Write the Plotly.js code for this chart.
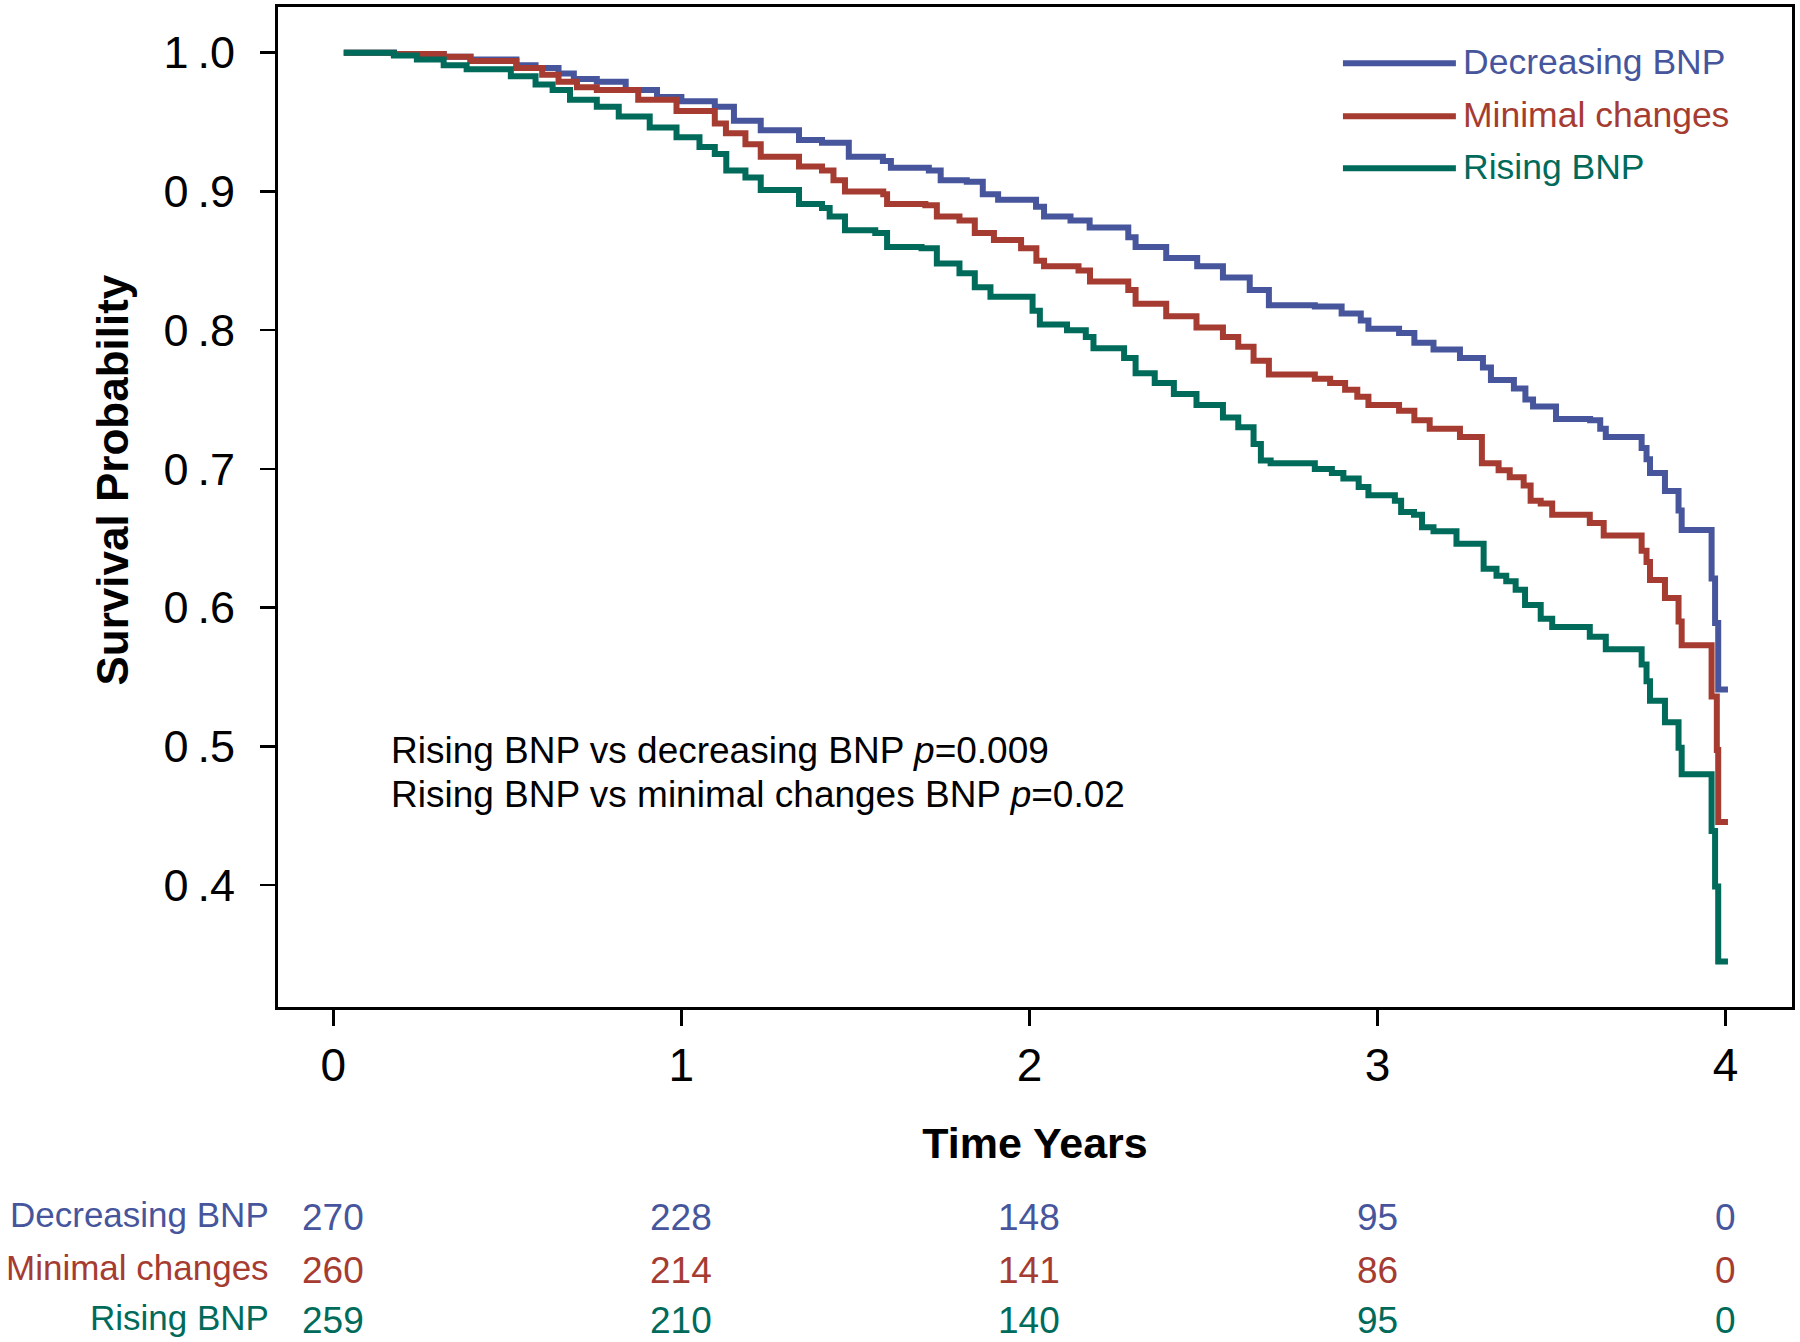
<!DOCTYPE html>
<html>
<head>
<meta charset="utf-8">
<script src="https://cdn.plot.ly/plotly-3.0.1.min.js"></script>
<style>html,body{margin:0;padding:0;background:#fff}</style>
</head>
<body>
<div id="chart" style="width:1800px;height:1342px"></div>
<script>
// ---- Data ----
const groupNames = ["Decreasing BNP", "Minimal changes", "Rising BNP"];
const groupColors = ["#47569c", "#a63c31", "#006b5b"];

const decTime = [0.03,0.174,0.317,0.394,0.526,0.581,0.647,0.691,0.757,0.84,0.93,1.0,1.096,1.151,1.228,1.338,1.404,1.481,1.579,1.602,1.711,1.745,1.82,1.866,1.91,2.019,2.042,2.118,2.173,2.284,2.305,2.393,2.482,2.556,2.633,2.688,2.82,2.897,2.952,2.974,3.062,3.106,3.161,3.237,3.303,3.326,3.392,3.425,3.447,3.513,3.611,3.64,3.656,3.759,3.773,3.783,3.826,3.865,3.874,3.96,3.97,3.979,4.007];
const decSurv = [1.0,0.999,0.997,0.995,0.991,0.989,0.985,0.981,0.979,0.973,0.968,0.965,0.961,0.951,0.944,0.937,0.935,0.925,0.922,0.917,0.915,0.908,0.907,0.898,0.894,0.889,0.882,0.879,0.874,0.867,0.860,0.852,0.846,0.838,0.829,0.818,0.817,0.812,0.807,0.801,0.798,0.791,0.786,0.780,0.773,0.764,0.758,0.750,0.745,0.736,0.735,0.729,0.723,0.715,0.707,0.697,0.684,0.670,0.656,0.621,0.589,0.541,0.541];

const minTime = [0.03,0.174,0.317,0.394,0.526,0.6,0.647,0.7,0.757,0.876,0.986,1.096,1.128,1.184,1.228,1.338,1.404,1.437,1.47,1.58,1.591,1.701,1.734,1.799,1.843,1.898,1.976,2.02,2.042,2.141,2.174,2.284,2.305,2.393,2.48,2.556,2.6,2.644,2.688,2.82,2.864,2.907,2.942,2.974,3.062,3.106,3.15,3.237,3.30,3.348,3.38,3.42,3.44,3.469,3.502,3.61,3.65,3.759,3.773,3.783,3.826,3.865,3.874,3.96,3.975,3.979,4.007];
const minSurv = [1.0,0.999,0.997,0.994,0.989,0.984,0.979,0.975,0.973,0.966,0.958,0.949,0.942,0.934,0.925,0.918,0.915,0.908,0.900,0.898,0.891,0.890,0.882,0.879,0.870,0.865,0.859,0.850,0.846,0.843,0.835,0.829,0.819,0.810,0.802,0.795,0.788,0.778,0.768,0.765,0.762,0.757,0.752,0.746,0.742,0.735,0.729,0.723,0.704,0.699,0.694,0.688,0.677,0.675,0.667,0.661,0.652,0.641,0.633,0.620,0.607,0.590,0.573,0.536,0.4975,0.4455,0.4455];

const risTime = [0.03,0.174,0.24,0.317,0.383,0.51,0.581,0.63,0.68,0.757,0.82,0.909,0.986,1.052,1.096,1.129,1.184,1.228,1.338,1.404,1.426,1.47,1.557,1.591,1.69,1.734,1.799,1.843,1.888,2.009,2.03,2.108,2.162,2.184,2.272,2.305,2.36,2.415,2.48,2.556,2.6,2.644,2.665,2.693,2.82,2.869,2.902,2.946,2.974,3.05,3.068,3.105,3.128,3.161,3.227,3.305,3.342,3.37,3.397,3.424,3.469,3.502,3.61,3.656,3.759,3.773,3.783,3.826,3.865,3.874,3.96,3.97,3.979,4.007];
const risSurv = [1.0,0.998,0.995,0.991,0.988,0.983,0.977,0.973,0.966,0.961,0.954,0.946,0.939,0.932,0.927,0.915,0.910,0.901,0.891,0.888,0.882,0.872,0.870,0.860,0.859,0.848,0.841,0.831,0.824,0.814,0.804,0.800,0.795,0.787,0.780,0.769,0.762,0.754,0.746,0.737,0.730,0.718,0.706,0.704,0.700,0.697,0.693,0.687,0.681,0.677,0.669,0.667,0.658,0.655,0.646,0.628,0.623,0.619,0.613,0.602,0.592,0.586,0.579,0.570,0.559,0.547,0.533,0.5175,0.499,0.480,0.439,0.399,0.345,0.345];

const xTickVals = [0, 1, 2, 3, 4];
const xTickText = ["0", "1", "2", "3", "4"];
const yTickVals = [0.4, 0.5, 0.6, 0.7, 0.8, 0.9, 1.0];
const yTickText = ["0\u2009.4", "0\u2009.5", "0\u2009.6", "0\u2009.7", "0\u2009.8", "0\u2009.9", "1\u2009.0"];

const riskTimes = [0, 1, 2, 3, 4];
const riskDecreasing = [270, 228, 148, 95, 0];
const riskMinimal = [260, 214, 141, 86, 0];
const riskRising = [259, 210, 140, 95, 0];

const pText1 = "Rising BNP vs decreasing BNP <i>p</i>=0.009";
const pText2 = "Rising BNP vs minimal changes BNP <i>p</i>=0.02";

// ---- Build traces ----
const FONT = "Liberation Sans, Arial, Helvetica, sans-serif";
const series = [[decTime, decSurv], [minTime, minSurv], [risTime, risSurv]];
const traces = series.map((s, i) => ({
  x: s[0], y: s[1], type: "scatter", mode: "lines",
  line: {shape: "hv", color: groupColors[i], width: 6},
  name: groupNames[i], showlegend: false, hoverinfo: "skip"
}));

// ---- Annotations & shapes ----
const annotations = [];
const shapes = [];

// Y axis title
annotations.push({
  xref: "paper", yref: "paper", x: -0.109, y: 0.5275,
  text: "<b>Survival Probability</b>", textangle: -90, showarrow: false,
  xanchor: "center", yanchor: "middle",
  font: {family: FONT, size: 44, color: "#000"}
});

// p-value texts
annotations.push({xref: "paper", yref: "paper", x: 0.073, y: 0.257, text: pText1, showarrow: false,
  xanchor: "left", yanchor: "middle", font: {family: FONT, size: 37, color: "#000"}});
annotations.push({xref: "paper", yref: "paper", x: 0.073, y: 0.213, text: pText2, showarrow: false,
  xanchor: "left", yanchor: "middle", font: {family: FONT, size: 37, color: "#000"}});

// Legend (custom, long line samples)
const legendY = [0.9437, 0.8907, 0.8387];
groupNames.forEach((nm, i) => {
  shapes.push({type: "line", xref: "paper", yref: "paper", x0: 0.7034, x1: 0.778,
    y0: legendY[i], y1: legendY[i], line: {color: groupColors[i], width: 6}});
  annotations.push({xref: "paper", yref: "paper", x: 0.7815, y: legendY[i] + 0.001, text: nm,
    showarrow: false, xanchor: "left", yanchor: "middle",
    font: {family: FONT, size: 35.5, color: groupColors[i]}});
});

// Numbers at risk table
const riskRows = [riskDecreasing, riskMinimal, riskRising];
const riskY = [-0.21, -0.263, -0.313];
riskRows.forEach((row, i) => {
  annotations.push({xref: "paper", yref: "paper", x: -0.0045, y: riskY[i] + 0.003, text: groupNames[i],
    showarrow: false, xanchor: "right", yanchor: "middle",
    font: {family: FONT, size: 35, color: groupColors[i]}});
  row.forEach((v, j) => {
    annotations.push({xref: "x", yref: "paper", x: riskTimes[j], y: riskY[i], text: String(v),
      showarrow: false, xanchor: "center", yanchor: "middle",
      font: {family: FONT, size: 37, color: groupColors[i]}});
  });
});

const layout = {
  width: 1800, height: 1342,
  margin: {l: 278, r: 8, t: 7, b: 335},
  paper_bgcolor: "#fff", plot_bgcolor: "#fff",
  font: {family: FONT, color: "#000"},
  showlegend: false,
  xaxis: {
    range: [-0.159, 4.191], tickvals: xTickVals, ticktext: xTickText,
    ticks: "outside", ticklen: 16, tickwidth: 2.5, tickcolor: "#000",
    showline: true, linecolor: "#000", linewidth: 3, mirror: true,
    showgrid: false, zeroline: false,
    tickfont: {family: FONT, size: 46, color: "#000"},
    ticklabelstandoff: 0,
    title: {text: "<b>Time Years</b>", font: {family: FONT, size: 43, color: "#000"}, standoff: 38}
  },
  yaxis: {
    range: [0.3122, 1.0329], tickvals: yTickVals, ticktext: yTickText,
    ticks: "outside", ticklen: 15, tickwidth: 2.5, tickcolor: "#000",
    showline: true, linecolor: "#000", linewidth: 3, mirror: true,
    showgrid: false, zeroline: false,
    tickfont: {family: FONT, size: 45, color: "#000"},
    ticklabelstandoff: 16
  },
  annotations: annotations,
  shapes: shapes
};

Plotly.newPlot("chart", traces, layout, {displayModeBar: false, staticPlot: true});
</script>
</body>
</html>
